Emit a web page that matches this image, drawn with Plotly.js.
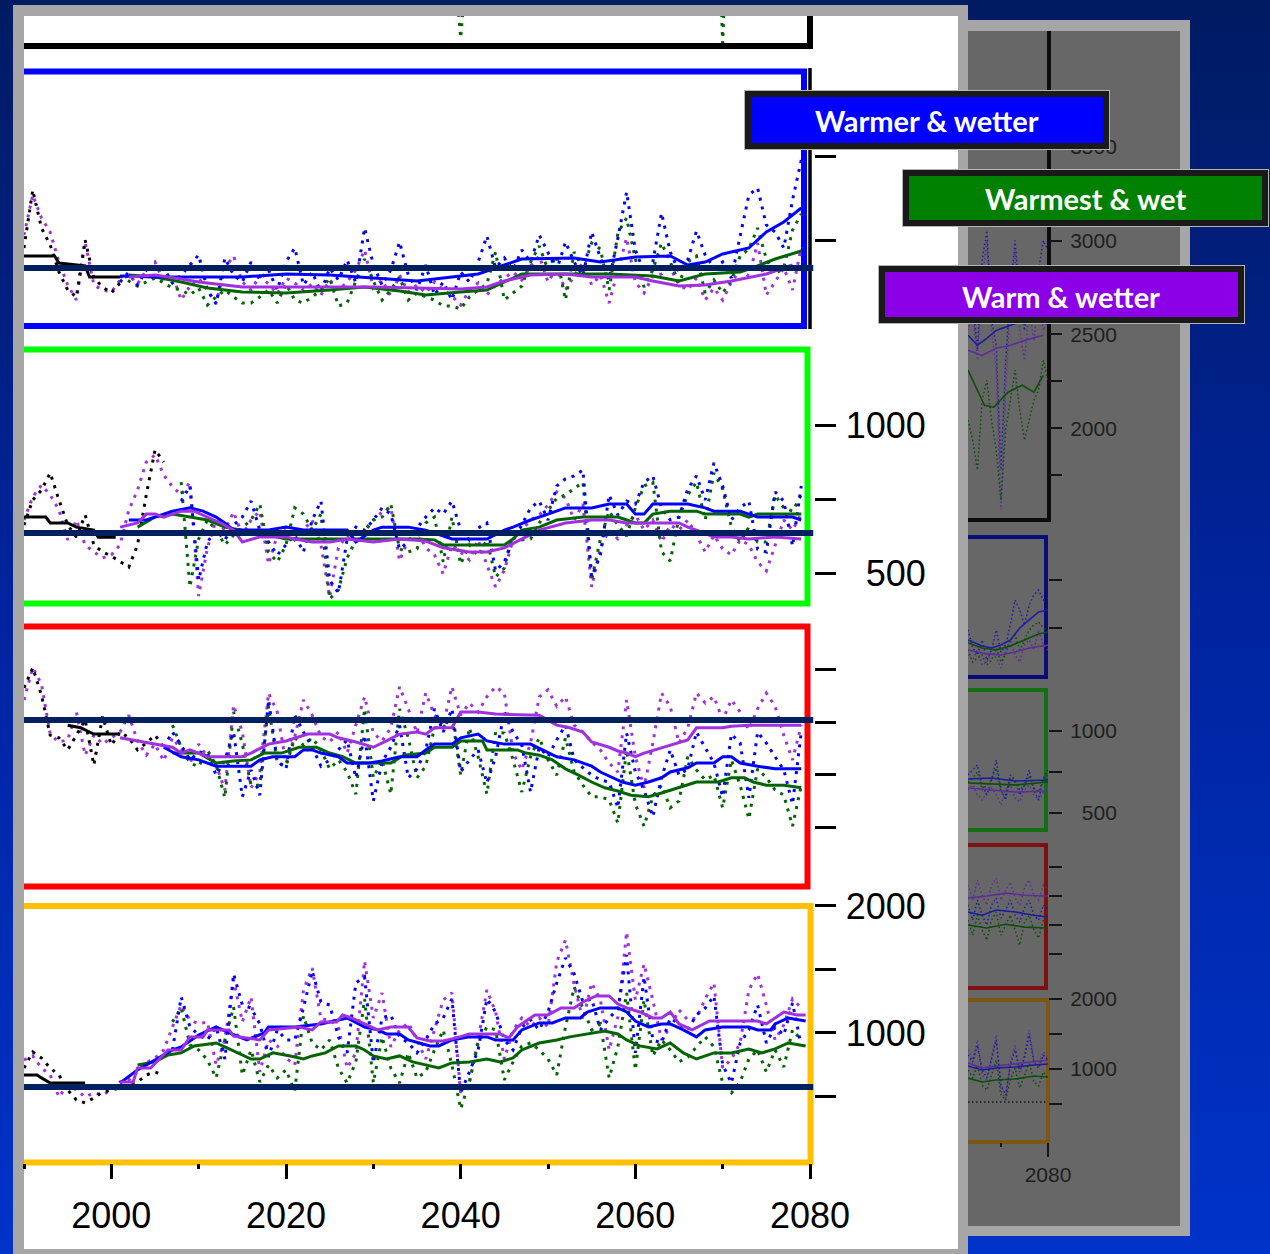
<!DOCTYPE html>
<html>
<head>
<meta charset="utf-8">
<script src="https://cdn.plot.ly/plotly-3.0.1.min.js"></script>
<style>
html,body{margin:0;padding:0;width:1270px;height:1254px;overflow:hidden;
background:linear-gradient(180deg,#001b62 0%,#0024a0 50%,#0033c9 100%);}
#chart{width:1270px;height:1254px;}
</style>
</head>
<body>
<div id="chart"></div>
<script>
// ---------------- DATA ----------------
const years = [1990,1991,1992,1993,1994,1995,1996,1997,1998,1999,2000,2001,2002,2003,2004,2005,2006,2007,2008,2009,2010,2011,2012,2013,2014,2015,2016,2017,2018,2019,2020,2021,2022,2023,2024,2025,2026,2027,2028,2029,2030,2031,2032,2033,2034,2035,2036,2037,2038,2039,2040,2041,2042,2043,2044,2045,2046,2047,2048,2049,2050,2051,2052,2053,2054,2055,2056,2057,2058,2059,2060,2061,2062,2063,2064,2065,2066,2067,2068,2069,2070,2071,2072,2073,2074,2075,2076,2077,2078,2079,2080];
const xTickVals = [2000,2020,2040,2060,2080];
const xTickText = ['2000','2020','2040','2060','2080'];
const xMinorVals = [1990,2010,2030,2050,2070];
const labelBlue = 'Warmer & wetter';
const labelGreen = 'Warmest & wet';
const labelPurple = 'Warm & wetter';

// top (black) panel: green dips into view
const tpGreenX = [2039.6,2040,2040.4,null,2069.8,2070,2070.2];
const tpGreenY = [2300,1880,2300,null,2300,1830,2300];

// blue panel
const bpRef = 832;
const bpBlackDot = [952,1300,1072,970,808,700,658,1000,772,718,682,742];
const bpBlackSmoothX = [1990,1993.5,1994,1997,1997.5,2001];
const bpBlackSmooth = [904,904,862,844,778,778];
const bpPurpleDot = [1030,1270,1132,1048,868,730,640,988,730,700,688,
760,790,736,820,868,748,790,640,724,772,700,622,832,904,748,700,784,736,676,772,
742,700,736,670,760,700,748,820,940,712,760,664,790,688,730,682,748,700,664,610,
700,742,670,730,772,808,760,844,904,748,832,700,784,868,730,790,622,820,1012,748,
682,784,796,832,730,700,772,640,712,640,748,820,784,982,670,748,832,700,958];
const bpBlueDot = [748,808,730,820,760,832,742,790,850,910,700,616,892,790,748,868,760,820,700,868,
952,730,808,688,832,760,880,742,1072,850,730,820,988,790,700,850,670,748,640,808,
748,868,1024,832,892,820,940,868,1030,928,820,988,868,784,1048,892,760,1012,1288,940,
808,868,1162,928,808,880,1054,910,832,868,772,1024,1270,1312,1090,1048,952,1240,1480];
const bpGreenDot = [784,754,724,748,772,742,712,700,670,712,610,658,700,658,622,622,658,700,622,736,
640,622,658,700,772,604,622,754,886,754,640,700,778,640,682,658,640,604,604,586,
658,700,736,928,640,682,724,868,964,820,904,640,928,832,982,946,700,1042,1132,886,
718,820,982,868,742,868,904,682,760,682,760,904,946,1072,886,796,832,1060,1156];
const bpBlueSmoothX = [2001,2005,2010,2015,2020,2025,2030,2035,2039,2042,2045,2047,2053,2056,2060,2064,2066,2068,2070,2073,2075,2077,2079];
const bpBlueSmooth = [784,778,778,778,796,790,772,754,778,796,850,886,892,868,898,904,850,868,916,952,1048,1108,1192];
const bpGreenSmoothX = [2002,2005,2008,2011,2015,2020,2025,2029,2033,2036,2040,2043,2045,2047,2052,2057,2062,2065,2068,2072,2074,2076,2079];
const bpGreenSmooth = [790,778,748,712,688,682,700,718,694,670,688,700,748,796,796,796,784,754,796,808,844,886,934];
const bpPurpleSmoothX = [2002,2005,2008,2010,2012,2015,2020,2025,2030,2035,2040,2043,2045,2048,2052,2055,2060,2062,2065,2068,2071,2075,2078];
const bpPurpleSmooth = [778,790,766,748,736,718,718,718,718,712,706,718,754,790,796,778,778,754,724,730,754,796,850];

// green panel
const gpRef = 635;
const gpBlackDot = [662,747,780,838,747,662,621,696,595,571,557,537,520,595,764,916,875];
const gpBlackSmoothX = [1990,1992.5,1993,1995,1996,1998,1998.5,2000.5];
const gpBlackSmooth = [689,689,669,669,655,645,621,621];
const gpPurpleDot = [679,757,797,764,713,612,679,595,571,551,561,
595,713,780,875,899,831,791,764,807,422,585,679,645,706,628,679,709,530,628,655,
612,645,679,595,419,585,628,612,639,679,706,723,541,612,645,585,561,497,595,571,
544,612,527,453,510,612,645,679,696,730,774,753,679,733,453,585,645,615,662,696,
645,679,605,662,645,679,628,571,628,581,561,612,595,537,507,595,679,645,699];
const gpBlueDot = [743,794,476,605,645,612,662,689,743,645,605,561,595,628,571,679,743,476,433,615,
655,645,679,720,699,581,605,652,689,720,699,743,645,612,652,669,507,537,612,662,
720,743,679,794,818,828,848,487,561,764,696,743,733,807,828,720,679,689,784,828,
747,872,794,679,720,743,581,571,774,743,591,794];
const gpGreenDot = [807,453,615,679,645,595,628,652,679,733,571,537,595,720,699,645,699,412,443,551,
612,645,679,689,733,581,571,581,669,689,537,689,530,595,558,612,487,517,645,612,
615,669,713,753,764,784,807,476,615,709,662,625,720,794,807,571,541,689,764,807,
679,838,784,655,605,655,605,605,764,720,709,764];
const gpPurpleSmoothX = [2001,2003,2004,2005,2006,2007,2008,2009.5,2011,2012.5,2014,2015,2017,2020,2021,2023,2025,2027,2030,2033,2036,2038,2041,2043,2045,2047,2049,2052,2055,2057,2059,2062,2065,2066,2067,2069,2071,2073,2076,2079];
const gpPurpleSmooth = [655,669,699,699,689,699,709,709,689,669,645,605,622,622,615,605,605,615,605,615,608,585,571,571,585,615,645,669,679,679,669,669,669,655,645,622,622,615,622,615];
const gpBlueSmoothX = [2002,2004,2007,2009,2010.5,2012,2013,2014,2018,2020,2022,2025,2027,2028,2030,2031,2034,2036,2039,2043,2045,2046,2048,2050,2052,2055,2057,2059,2060,2061,2062,2066,2068,2069,2072,2074,2078,2079];
const gpBlueSmooth = [679,679,709,720,709,689,669,645,645,655,645,645,645,605,645,655,655,645,615,615,645,655,679,699,720,720,733,733,699,699,733,733,720,709,709,689,689,679];
const gpGreenSmoothX = [2003,2005,2007,2009,2011,2013,2015,2018,2020,2023,2026,2029,2032,2035,2037,2038,2042,2045,2046,2047,2049,2051,2054,2058,2059,2060,2061,2062,2064,2067,2068,2072,2073,2074,2079];
const gpGreenSmooth = [655,689,699,689,679,655,645,628,615,615,615,615,615,615,612,595,595,595,615,645,655,679,689,689,679,669,669,699,709,709,699,699,689,699,699];

// red panel
const rpRef = 304;
const rpBlackDot = [365,403,351,275,270,247,275,304,218,311,256,281,270,247,260,275,252];
const rpBlackSmoothX = [1995,1996.5,1997.5,1998,2001];
const rpBlackSmooth = [294,289,281,277,277];
const rpPurpleDot = [342,403,372,277,262,266,319,237,275,258,270,
281,313,264,237,258,226,270,247,222,258,234,218,171,332,281,175,205,355,319,222,
272,342,313,272,262,281,241,294,348,279,264,289,367,325,279,355,313,294,367,313,
336,319,348,367,355,241,209,260,348,361,330,348,294,281,262,247,222,205,342,234,
175,260,355,329,260,289,355,336,348,304,342,319,285,325,355,330,275,228,294];
const rpBlueDot = [252,281,256,228,243,241,199,228,281,158,209,161,342,226,211,313,281,252,216,228,
247,266,194,275,150,224,252,294,194,211,247,325,281,325,205,228,247,184,234,319,
281,256,167,252,234,266,294,228,213,199,190,186,137,279,205,171,120,194,247,199,
211,281,251,222,158,277,260,156,281,260,234,209,144,281];
const rpGreenDot = [294,252,222,215,247,218,156,319,258,180,180,330,222,216,270,256,270,247,211,228,
205,163,325,194,228,163,325,270,194,216,289,289,313,199,289,234,163,281,279,228,
167,234,270,228,199,270,205,180,158,158,152,108,247,144,102,158,180,137,150,234,
209,190,199,137,228,180,116,211,194,171,161,102,180];
const rpPurpleSmoothX = [2001,2003,2005,2007,2008,2009,2011,2015,2016,2017,2018,2020,2022.5,2025,2026,2028,2030,2031.5,2033,2035,2036,2037,2039,2040,2042,2044,2047,2049,2051,2052.5,2054,2055,2057,2058,2059,2060,2061,2063,2064.5,2066,2067,2070,2071,2073,2076,2079];
const rpPurpleSmooth = [270,264,258,252,241,247,234,234,241,249,258,264,277,277,270,262,252,264,277,281,277,289,289,319,319,315,313,313,294,289,281,262,252,245,241,234,241,251,258,266,289,289,292,294,294,294];
const rpBlueSmoothX = [2006,2008,2010,2012,2016,2017,2018.5,2021,2022,2023,2024,2026,2027,2029.5,2031,2033,2035,2036,2037,2039,2040,2042,2043,2045,2048,2050,2051,2053,2055,2056,2057.5,2058.5,2060,2061.5,2063,2064,2066,2067,2069,2070,2071,2072,2074,2076,2079];
const rpBlueSmooth = [252,234,228,216,216,228,234,234,247,247,241,234,222,222,226,234,234,247,258,258,270,277,264,258,258,243,234,228,216,205,194,186,180,186,194,205,213,222,222,234,234,222,216,211,211];
const rpGreenSmoothX = [2007,2010,2012,2014,2016,2017.5,2019.5,2021.5,2023.5,2025,2026.5,2028,2030,2032,2033.5,2036,2037,2039,2040,2042.5,2043,2046.5,2047.5,2049,2050.5,2052,2053.5,2055,2056.5,2058,2059.5,2061.5,2063,2065,2067,2069.5,2071,2072.5,2073.5,2075,2077,2079];
const rpGreenSmooth = [241,241,222,226,228,241,241,252,252,241,234,222,222,222,237,241,252,252,264,264,247,247,241,237,228,211,199,186,175,169,161,158,165,175,186,186,194,194,186,180,180,175];

// yellow panel
const ypRef = 575;
const ypBlackDot = [724,850,803,724,669,551,472,449,488,535,551,567,591,614,669,693,669];
const ypBlackSmoothX = [1990,1991.5,1992,1993,1997];
const ypBlackSmooth = [669,669,646,606,606];
const ypPurpleDot = [787,819,724,669,496,591,551,496,528,512,551,
614,630,693,764,803,866,1047,1220,1102,1071,1087,748,945,1417,1087,1283,693,945,898,803,
748,1339,1512,1110,1102,1047,724,843,1567,1118,1315,890,1024,1079,945,795,1024,1260,1315,528,
614,945,1339,1165,795,1024,1118,1047,1118,1047,1559,1732,1378,1102,1394,1260,866,1126,1795,1260,
1543,1260,945,1047,1181,1102,1118,1268,1394,724,795,921,1339,1465,1220,945,1063,1268,1197];
const ypBlueDot = [866,1283,1047,984,945,1047,795,1465,1220,1197,1071,811,1024,945,945,1197,1488,1244,1220,969,
843,1394,1441,764,1118,1142,969,921,843,945,1071,1118,1268,528,693,866,1268,1165,945,866,
1047,1102,1024,1165,1394,1591,1465,1244,1268,1024,1118,1189,1614,843,1441,945,921,1118,1071,1024,
1142,1197,1291,748,606,921,1024,1220,921,1047,984,1236,898];
const ypGreenDot = [1087,1197,906,866,787,646,945,1205,669,866,614,748,646,709,543,1134,921,866,945,724,
606,772,1268,606,969,724,606,843,646,693,866,1024,748,402,614,921,1047,1024,630,772,
898,921,866,795,669,1047,1362,1197,1024,1071,646,890,1315,709,1260,819,945,866,772,811,
890,969,890,606,528,614,795,866,693,866,732,1024,945];
const ypPurpleSmoothX = [2001,2002.5,2003,2004.5,2005.5,2006.5,2008,2009,2010.5,2011,2013.5,2014,2015.5,2017,2018,2021.5,2023,2024,2025.8,2026.5,2027.5,2029,2030.5,2032,2034,2035,2036.5,2038,2039.5,2041,2044.5,2045.5,2046.5,2048.5,2050,2051.5,2053,2054,2055.5,2057,2058,2059,2060.5,2062,2063,2064,2065,2066.5,2068.5,2074,2075,2076,2077,2078.5,2079.5];
const ypPurpleSmooth = [614,614,724,724,795,866,866,969,969,1024,1024,976,961,945,1024,1047,1024,1087,1087,1142,1118,1071,1024,1047,1047,961,937,937,961,992,992,961,1047,1142,1142,1197,1197,1244,1291,1291,1228,1197,1165,1118,1118,1165,1071,1024,1094,1094,1071,1118,1165,1142,1142];
const ypBlueSmoothX = [2001,2003,2005,2007,2008,2010,2012,2013.5,2015.5,2017.5,2018,2021,2024,2027,2029,2030.5,2031.5,2033,2034,2036.5,2037.5,2039,2041,2043,2044,2046,2047,2049,2050.5,2052,2053.7,2054.5,2056,2058,2059,2060,2061.5,2063,2064,2065.5,2067,2068,2070,2073,2074,2075.5,2076,2077.5,2079.5];
const ypBlueSmooth = [606,709,787,866,890,984,1047,1000,945,1000,1047,1047,1071,1118,1047,1024,992,992,945,898,898,945,969,969,945,945,1024,1079,1079,1118,1118,1165,1197,1197,1165,1094,1047,1071,1071,1024,969,1024,1047,1047,1024,1024,1071,1118,1094];
const ypGreenSmoothX = [2003,2005,2006.5,2008,2009.5,2012,2013,2014.5,2016,2017,2018.5,2020.5,2022,2023,2024.5,2026,2028,2029,2030,2031.5,2033,2034.5,2036,2037.5,2039,2041,2043,2044.5,2046,2047,2049,2051,2052.5,2054.5,2056.5,2058,2059,2060.5,2062.5,2064,2065.5,2067,2069,2071,2073,2074.5,2076,2077.5,2079.5];
const ypGreenSmooth = [748,772,827,843,898,921,890,843,795,795,843,819,795,819,843,898,898,866,819,795,819,772,748,724,764,772,795,772,803,866,921,945,969,992,1016,992,945,898,874,921,843,795,843,843,874,843,874,921,898];

// faded second chart (right), years 2063-2080
const g1PurpleDot = [2521,2628,2362,2787,3000,2521,2309,1564,2202,2681,2947,2521,2362,2628,2468,2681,2521,2575];
const g1BlueDot = [2575,2681,2415,2894,3053,2575,2442,1777,2362,2734,3000,2681,2521,2734,2575,2841,3000,2947];
const g1GreenDot = [2043,1936,1777,2149,2255,2043,1883,1617,1989,2149,2309,2096,1936,2043,2149,2202,2362,2255];
const g1GreenSmoothX = [2063,2064.5,2066.5,2068.5,2071.5,2074.5,2077,2079];
const g1GreenSmooth = [2309,2229,2122,2112,2192,2229,2192,2282];
const g1BlueSmoothX = [2063,2065,2067,2069,2072,2075,2078,2079.5];
const g1BlueSmooth = [2495,2442,2479,2521,2548,2575,2601,2654];
const g1PurpleSmoothX = [2063,2066,2069,2072,2075,2079];
const g1PurpleSmooth = [2415,2388,2426,2442,2468,2495];

const g2BlueDot = [979,792,719,875,667,771,979,750,823,1031,1291,1187,1031,1239,1343,1395,1291,1312];
const g2PurpleDot = [719,667,771,615,646,750,688,584,771,875,719,646,823,875,771,979,823,771];
const g2GreenDot = [771,646,688,719,615,667,792,646,719,875,927,771,875,979,1031,1062,1000,979];
const g2BlueSmoothX = [2063,2066,2068,2070,2072,2074,2076,2078,2080];
const g2BlueSmooth = [875,813,792,823,875,1000,1083,1166,1187];
const g2GreenSmoothX = [2063,2066,2069,2072,2075,2078,2080];
const g2GreenSmooth = [844,792,771,813,875,938,958];
const g2PurpleSmoothX = [2063,2067,2070,2073,2076,2080];
const g2PurpleSmooth = [771,730,719,750,792,823];

const g3BlueDot = [732,762,793,671,610,701,823,640,579,732,701,610,671,762,640,579,713,762];
const g3PurpleDot = [640,671,610,579,628,652,610,549,640,671,591,567,640,671,610,579,628,652];
const g3GreenDot = [689,713,750,640,671,701,774,628,610,713,689,640,665,726,652,628,701,732];
const g3SmoothX = [2063,2068,2073,2080];
const g3BlueSmooth = [707,713,695,701];
const g3GreenSmooth = [683,677,671,689];
const g3PurpleSmooth = [652,640,628,634];

const g4PurpleDot = [338,286,355,303,269,338,362,286,321,348,293,269,328,355,303,286,338,321];
const g4BlueDot = [269,217,286,234,200,269,293,224,252,286,234,210,259,286,234,217,269,252];
const g4GreenDot = [217,165,234,183,148,217,245,165,200,234,183,131,210,234,183,155,217,200];
const g4PurpleSmoothX = [2063,2067,2071,2075,2080];
const g4PurpleSmooth = [293,300,310,303,300];
const g4BlueSmoothX = [2063,2066,2069,2073,2077,2080];
const g4BlueSmooth = [245,234,252,245,234,228];
const g4GreenSmoothX = [2063,2067,2071,2075,2080];
const g4GreenSmooth = [200,190,203,193,190];

const g5PurpleDot = [1272,1129,1415,914,843,1157,1486,700,557,1100,1343,986,1200,1558,1129,1057,1243,1157];
const g5BlueDot = [1200,1100,1343,986,871,1129,1415,771,628,1057,1272,957,1157,1486,1100,1014,1200,1129];
const g5GreenDot = [986,871,1057,771,700,914,1129,628,557,843,1014,728,914,1100,814,757,957,871];
const g5SmoothX = [2063,2066,2069,2073,2077,2080];
const g5PurpleSmooth = [1086,1014,1043,1072,1100,1129];
const g5BlueSmooth = [1043,986,1014,1029,1057,1072];
const g5GreenSmooth = [871,814,843,857,900,886];
const g5Ref = 528;

// ---------------- HELPERS ----------------
const W = 1270, H = 1254;
const fx = px => px / W;
const fy = py => 1 - py / H;
const yrs = (start, arr) => { const i = years.indexOf(start); return years.slice(i, i + arr.length); };

const C = {blue:'#0000ff', green:'#006400', purple:'#a030e0', black:'#000000', navy:'#002060'};
const GC = {blue:'#1c1ca0', green:'#0b4f0b', purple:'#5c2c9c', black:'#1a1a1a'};
const DOT = '3px,6px';
const GDOT = '1.5px,2.5px';

const traces = [];
function add(x, y, ya, color, width, dash, xa) {
  traces.push({type:'scatter', mode:'lines', x:x, y:y, xaxis:xa||'x', yaxis:ya,
    line:{color:color, width:width, dash:dash||'solid'}, connectgaps:false,
    hoverinfo:'skip', showlegend:false});
}
function mainPanel(ya, p) {
  add(yrs(1990, p.purpleDot), p.purpleDot, ya, C.purple, 3, DOT);
  add(yrs(p.greenStart, p.greenDot), p.greenDot, ya, C.green, 3, DOT);
  add(yrs(p.blueStart, p.blueDot), p.blueDot, ya, C.blue, 3, DOT);
  add(yrs(1990, p.blackDot), p.blackDot, ya, C.black, 3, DOT);
  add(p.greenSX, p.greenS, ya, C.green, 3);
  add(p.blueSX, p.blueS, ya, C.blue, 3);
  add(p.purpleSX, p.purpleS, ya, C.purple, 3);
  add(p.blackSX, p.blackS, ya, C.black, 3);
  add([1990, 2080.4], [p.ref, p.ref], ya, C.navy, 6);
}
function grayPanel(ya, p) {
  const gx = yrs(2063, p.purpleDot);
  add(gx, p.purpleDot, ya, GC.purple, 1.5, GDOT, 'x2');
  add(gx, p.blueDot, ya, GC.blue, 1.5, GDOT, 'x2');
  add(gx, p.greenDot, ya, GC.green, 1.5, GDOT, 'x2');
  add(p.greenSX, p.greenS, ya, GC.green, 1.6, null, 'x2');
  add(p.blueSX, p.blueS, ya, GC.blue, 1.6, null, 'x2');
  add(p.purpleSX, p.purpleS, ya, GC.purple, 1.6, null, 'x2');
}

// main chart
add(tpGreenX, tpGreenY, 'y5', C.green, 3, DOT);
mainPanel('y4', {purpleDot:bpPurpleDot, greenDot:bpGreenDot, blueDot:bpBlueDot, blackDot:bpBlackDot,
  greenStart:2001, blueStart:2001, greenSX:bpGreenSmoothX, greenS:bpGreenSmooth, blueSX:bpBlueSmoothX, blueS:bpBlueSmooth,
  purpleSX:bpPurpleSmoothX, purpleS:bpPurpleSmooth, blackSX:bpBlackSmoothX, blackS:bpBlackSmooth, ref:bpRef});
mainPanel('y3', {purpleDot:gpPurpleDot, greenDot:gpGreenDot, blueDot:gpBlueDot, blackDot:gpBlackDot,
  greenStart:2008, blueStart:2008, greenSX:gpGreenSmoothX, greenS:gpGreenSmooth, blueSX:gpBlueSmoothX, blueS:gpBlueSmooth,
  purpleSX:gpPurpleSmoothX, purpleS:gpPurpleSmooth, blackSX:gpBlackSmoothX, blackS:gpBlackSmooth, ref:gpRef});
mainPanel('y2', {purpleDot:rpPurpleDot, greenDot:rpGreenDot, blueDot:rpBlueDot, blackDot:rpBlackDot,
  greenStart:2007, blueStart:2006, greenSX:rpGreenSmoothX, greenS:rpGreenSmooth, blueSX:rpBlueSmoothX, blueS:rpBlueSmooth,
  purpleSX:rpPurpleSmoothX, purpleS:rpPurpleSmooth, blackSX:rpBlackSmoothX, blackS:rpBlackSmooth, ref:rpRef});
mainPanel('y', {purpleDot:ypPurpleDot, greenDot:ypGreenDot, blueDot:ypBlueDot, blackDot:ypBlackDot,
  greenStart:2007, blueStart:2007, greenSX:ypGreenSmoothX, greenS:ypGreenSmooth, blueSX:ypBlueSmoothX, blueS:ypBlueSmooth,
  purpleSX:ypPurpleSmoothX, purpleS:ypPurpleSmooth, blackSX:ypBlackSmoothX, blackS:ypBlackSmooth, ref:ypRef});

// faded chart
grayPanel('y6', {purpleDot:g1PurpleDot, blueDot:g1BlueDot, greenDot:g1GreenDot, greenSX:g1GreenSmoothX, greenS:g1GreenSmooth,
  blueSX:g1BlueSmoothX, blueS:g1BlueSmooth, purpleSX:g1PurpleSmoothX, purpleS:g1PurpleSmooth});
grayPanel('y7', {purpleDot:g2PurpleDot, blueDot:g2BlueDot, greenDot:g2GreenDot, greenSX:g2GreenSmoothX, greenS:g2GreenSmooth,
  blueSX:g2BlueSmoothX, blueS:g2BlueSmooth, purpleSX:g2PurpleSmoothX, purpleS:g2PurpleSmooth});
grayPanel('y8', {purpleDot:g3PurpleDot, blueDot:g3BlueDot, greenDot:g3GreenDot, greenSX:g3SmoothX, greenS:g3GreenSmooth,
  blueSX:g3SmoothX, blueS:g3BlueSmooth, purpleSX:g3SmoothX, purpleS:g3PurpleSmooth});
grayPanel('y9', {purpleDot:g4PurpleDot, blueDot:g4BlueDot, greenDot:g4GreenDot, greenSX:g4GreenSmoothX, greenS:g4GreenSmooth,
  blueSX:g4BlueSmoothX, blueS:g4BlueSmooth, purpleSX:g4PurpleSmoothX, purpleS:g4PurpleSmooth});
grayPanel('y10', {purpleDot:g5PurpleDot, blueDot:g5BlueDot, greenDot:g5GreenDot, greenSX:g5SmoothX, greenS:g5GreenSmooth,
  blueSX:g5SmoothX, blueS:g5BlueSmooth, purpleSX:g5SmoothX, purpleS:g5PurpleSmooth});
add([2063, 2080], [g5Ref, g5Ref], 'y10', GC.black, 1.5, GDOT, 'x2');

// ---------------- LAYOUT ----------------
const TICKFONT = '"Liberation Sans", Arial, sans-serif';
const mainTickFont = {family:TICKFONT, size:36, color:'#000'};
const grayTickFont = {family:TICKFONT, size:21, color:'#1e1e1e'};

function mainY(domTop, domBot, range, tickvals, ticktext, extra) {
  return Object.assign({domain:[fy(domBot), fy(domTop)], range:range, anchor:'x', side:'right',
    tickmode:'array', tickvals:tickvals, ticktext:ticktext, ticks:'outside', ticklen:21, tickwidth:3,
    tickcolor:'#000', showline:false, showgrid:false, zeroline:false, tickfont:mainTickFont,
    ticklabelstandoff:3, fixedrange:true}, extra||{});
}
function grayY(domTop, domBot, range, tickvals, ticktext) {
  return {domain:[fy(domBot), fy(domTop)], range:range, anchor:'x2', side:'right',
    tickmode:'array', tickvals:tickvals, ticktext:ticktext, ticks:'outside', ticklen:13, tickwidth:2,
    tickcolor:'#151515', showline:false, showgrid:false, zeroline:false, tickfont:grayTickFont,
    ticklabelstandoff:4, fixedrange:true};
}

function rect(x0, y0, x1, y1, fill, layer, line) {
  return {type:'rect', xref:'paper', yref:'paper', x0:fx(x0), x1:fx(x1), y0:fy(y1), y1:fy(y0),
    fillcolor:fill, line: line || {width:0}, layer:layer||'below'};
}
function openBox(xl, yt, xr, yb, color, width) {
  return {type:'path', xref:'paper', yref:'paper', layer:'below',
    path:`M ${fx(xl)},${fy(yt)} L ${fx(xr)},${fy(yt)} L ${fx(xr)},${fy(yb)} L ${fx(xl)},${fy(yb)}`,
    line:{color:color, width:width}, fillcolor:'rgba(0,0,0,0)'};
}
function bottomRight(xl, xr, yt, yb, color, width) {
  return {type:'path', xref:'paper', yref:'paper', layer:'below',
    path:`M ${fx(xr)},${fy(yt)} L ${fx(xr)},${fy(yb)} L ${fx(xl)},${fy(yb)}`,
    line:{color:color, width:width}, fillcolor:'rgba(0,0,0,0)'};
}
function vline(x, y0, y1, color, width) {
  return {type:'line', xref:'paper', yref:'paper', layer:'below', x0:fx(x), x1:fx(x), y0:fy(y0), y1:fy(y1),
    line:{color:color, width:width}};
}

const shapes = [
  // faded chart frame
  rect(958, 20, 1190, 1236, '#a6a6a6'),
  rect(968, 31, 1180, 1226, '#676767'),
  // main slide panel
  rect(13, 5, 968, 1254, '#a6a6a6'),
  rect(24, 16, 958, 1249, '#ffffff'),
  // main chart panel borders
  bottomRight(24, 810, 16, 46, '#000000', 6),
  vline(810, 68, 329, '#000000', 3.5),
  openBox(24, 71.5, 804, 326, '#0000ff', 6),
  openBox(24, 349.5, 807.5, 603.5, '#00ff00', 6),
  openBox(24, 626.5, 807.5, 886.5, '#ff0000', 6),
  openBox(24, 906, 810.5, 1162.5, '#ffc000', 6),
  // faded chart panel borders
  bottomRight(968, 1049, 31, 520, '#0d0d0d', 4),
  openBox(968, 537, 1046, 677, '#0c0c78', 4),
  openBox(968, 690, 1046, 830, '#127012', 4),
  openBox(968, 845, 1046, 988, '#7e1010', 4),
  openBox(968, 1000, 1048, 1142, '#7a5812', 4),
  // label boxes
  rect(748, 94, 1106, 146, '#0000ff', 'above', {color:'#b4b4b4', width:8}),
  rect(748, 94, 1106, 146, '#0000ff', 'above', {color:'#1a1a1a', width:6}),
  rect(906, 173, 1265, 223, '#008000', 'above', {color:'#b4b4b4', width:8}),
  rect(906, 173, 1265, 223, '#008000', 'above', {color:'#1a1a1a', width:6}),
  rect(882, 269, 1241, 320, '#8c00e8', 'above', {color:'#b4b4b4', width:8}),
  rect(882, 269, 1241, 320, '#8c00e8', 'above', {color:'#1a1a1a', width:6})
];

const labelFont = {family:'Lato, "Open Sans", sans-serif', size:29, color:'#ffffff', weight:700};
const annotations = [
  {text:labelBlue, x:fx(927), y:fy(121), xref:'paper', yref:'paper', showarrow:false, font:labelFont, xanchor:'center', yanchor:'middle'},
  {text:labelGreen, x:fx(1085), y:fy(199), xref:'paper', yref:'paper', showarrow:false, font:labelFont, xanchor:'center', yanchor:'middle'},
  {text:labelPurple, x:fx(1061), y:fy(296), xref:'paper', yref:'paper', showarrow:false, font:labelFont, xanchor:'center', yanchor:'middle'}
];

const layout = {
  width:W, height:H, margin:{l:0, r:0, t:0, b:0, pad:0},
  paper_bgcolor:'rgba(0,0,0,0)', plot_bgcolor:'rgba(0,0,0,0)',
  showlegend:false, hovermode:false,
  xaxis:{domain:[fx(24), fx(813.5)], range:[1990, 2080.4], anchor:'y',
    tickmode:'array', tickvals:xTickVals, ticktext:xTickText, ticks:'outside', ticklen:15, tickwidth:3,
    tickcolor:'#000', showline:false, showgrid:false, zeroline:false, tickfont:mainTickFont,
    ticklabelstandoff:6, fixedrange:true,
    minor:{tickmode:'array', tickvals:xMinorVals, ticks:'outside', ticklen:5, tickwidth:3, tickcolor:'#000', showgrid:false}},
  yaxis: mainY(905.7, 1163, [-24, 2002], [500,1000,1500,2000], ['','1000','','2000']),
  yaxis2: mainY(626, 887, [-13.5, 482.4], [100,200,300,400], ['','','','']),
  yaxis3: mainY(350, 603, [398.7, 1253.4], [500,750,1000], ['\u2007500','','1000']),
  yaxis4: mainY(72, 326, [484, 2008], [1000,1500], ['','']),
  yaxis5: {domain:[fy(46), fy(16)], range:[1800, 2100], anchor:'x', visible:false, fixedrange:true},
  xaxis2:{domain:[fx(968), fx(1048)], range:[2063, 2080], anchor:'y10',
    tickmode:'array', tickvals:[2080], ticktext:['2080'], ticks:'outside', ticklen:14, tickwidth:2,
    tickcolor:'#151515', showline:false, showgrid:false, zeroline:false, tickfont:grayTickFont,
    ticklabelstandoff:0, fixedrange:true,
    minor:{tickmode:'array', tickvals:[2070], ticks:'outside', ticklen:4, tickwidth:2, tickcolor:'#151515', showgrid:false}},
  yaxis6: grayY(31, 520, [1510.6, 4117], [1750,2000,2250,2500,2750,3000,3250,3500], ['','2000','','2500','','3000','','3500']),
  yaxis7: grayY(537, 677, [490, 1946], [1000,1500], ['','']),
  yaxis8: grayY(690, 830, [396, 1250], [500,750,1000], ['\u2007500','','1000']),
  yaxis9: grayY(845, 988, [-17, 476], [100,200,300,400], ['','','','']),
  yaxis10: grayY(999, 1142, [-44, 2002], [500,1000,1500,2000], ['','1000','','2000']),
  shapes:shapes, annotations:annotations
};

Plotly.newPlot('chart', traces, layout, {staticPlot:true, displayModeBar:false});
</script>
</body>
</html>
